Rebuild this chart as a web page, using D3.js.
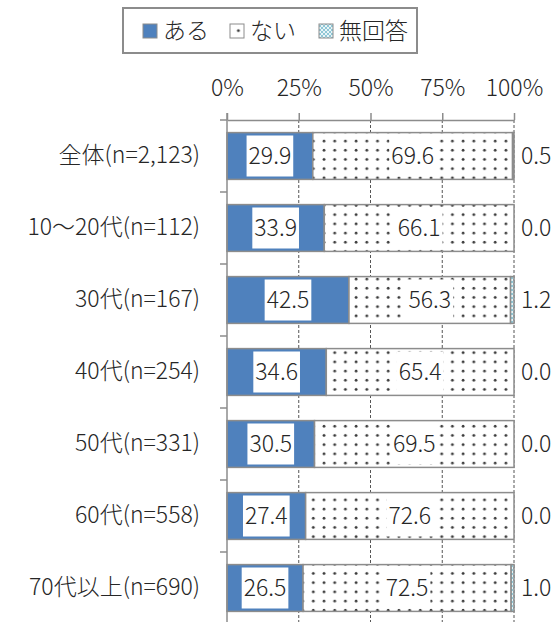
<!DOCTYPE html>
<meta charset="utf-8">
<script src="https://d3js.org/d3.v7.min.js"></script>
<style>
body { margin: 0; background: #fff; }
text { font-family: "Noto Sans CJK JP", "Noto Sans", sans-serif; fill: #262626; font-weight: 300; }
.axis path, .axis line { stroke: #8c8c8c; stroke-width: 1.5; }
.grid line { stroke: #555; stroke-dasharray: 3 2; stroke-width: 1; }
</style>
<div id="chart"></div>
<script>
// data
var categories = ["全体(n=2,123)", "10～20代(n=112)", "30代(n=167)", "40代(n=254)", "50代(n=331)", "60代(n=558)", "70代以上(n=690)"];
var aru    = [29.9, 33.9, 42.5, 34.6, 30.5, 27.4, 26.5];
var nai    = [69.6, 66.1, 56.3, 65.4, 69.5, 72.6, 72.5];
var mukai  = [0.5, 0.0, 1.2, 0.0, 0.0, 0.0, 1.0];
var seriesNames = ["ある", "ない", "無回答"];
var ticks = [0, 25, 50, 75, 100];

var width = 560, height = 622;
var fs = "23px";

var svg = d3.select("#chart").append("svg")
    .attr("width", width)
    .attr("height", height);

// patterns
var defs = svg.append("defs");
var dots = defs.append("pattern")
    .attr("id", "dots")
    .attr("patternUnits", "userSpaceOnUse")
    .attr("width", 10.7).attr("height", 9.2);
dots.append("rect").attr("width", 10.7).attr("height", 9.2).attr("fill", "#fff");
dots.append("circle").attr("cx", 3).attr("cy", 3).attr("r", 1.4).attr("fill", "#3a3a3a");

var hatch = defs.append("pattern")
    .attr("id", "hatch")
    .attr("patternUnits", "userSpaceOnUse")
    .attr("width", 4).attr("height", 4);
hatch.append("rect").attr("width", 4).attr("height", 4).attr("fill", "#8fc7d6");
hatch.append("path").attr("d", "M0,0L4,4M4,0L0,4").attr("stroke", "#fff").attr("stroke-width", 0.8);

var fills = ["#4f81bd", "url(#dots)", "url(#hatch)"];

// scales
var x = d3.scaleLinear().domain([0, 100]).range([227, 514]);
var y = d3.scaleBand().domain(categories).range([120, 624])
    .paddingInner(0.35).paddingOuter(0.175);

// gridlines
svg.append("g")
    .attr("class", "grid")
    .selectAll("line")
    .data(ticks.slice(1))
    .enter().append("line")
    .attr("x1", d => x(d)).attr("x2", d => x(d))
    .attr("y1", 120).attr("y2", 624);

// stacked data
var rows = categories.map(function(c, i) {
    return {name: c, vals: [aru[i], nai[i], mukai[i]]};
});

var rowG = svg.selectAll(".row")
    .data(rows)
    .enter().append("g")
    .attr("class", "row");

rowG.each(function(d) {
    var g = d3.select(this);
    var start = 0;
    d.mid = [];
    d.vals.forEach(function(v, k) {
        if (v > 0) {
            g.append("rect")
                .attr("x", x(start))
                .attr("y", y(d.name))
                .attr("width", x(start + v) - x(start))
                .attr("height", y.bandwidth())
                .attr("fill", fills[k])
                .attr("stroke", "#8c8c8c")
                .attr("stroke-width", 1.5);
        }
        d.mid[k] = start + v / 2;
        start += v;
    });
});

// value labels
rowG.each(function(d) {
    var g = d3.select(this);
    var cy = y(d.name) + y.bandwidth() / 2;
    [0, 1].forEach(function(k) {
        var t = g.append("text")
            .attr("x", x(d.mid[k]))
            .attr("y", cy)
            .attr("dy", "0.36em")
            .attr("text-anchor", "middle")
            .style("font-size", fs)
            .text(d.vals[k].toFixed(1));
        var bb = t.node().getBBox();
        g.insert("rect", function() { return t.node(); })
            .attr("x", bb.x - 2)
            .attr("y", cy - 20.5)
            .attr("width", bb.width + 4)
            .attr("height", 41)
            .attr("fill", "#fff");
    });
    g.append("text")
        .attr("x", x(100) + 7)
        .attr("y", cy)
        .attr("dy", "0.36em")
        .style("font-size", fs)
        .text(d.vals[2].toFixed(1));
});

// top axis
svg.append("g")
    .attr("class", "axis")
    .attr("transform", "translate(0,120)")
    .call(d3.axisTop(x).tickValues(ticks).tickSize(7).tickPadding(17)
        .tickSizeOuter(0).tickFormat(d => d + "%"))
    .call(g => g.selectAll("text").style("font-size", fs).attr("fill", "#262626"));

// left axis
var bounds = categories.map(c => y(c) - y.step() * y.paddingInner() / 2);
var left = svg.append("g").attr("class", "axis");
left.append("line")
    .attr("x1", x(0)).attr("x2", x(0))
    .attr("y1", 113).attr("y2", 624);
left.selectAll(".tk")
    .data(bounds)
    .enter().append("line")
    .attr("x1", x(0) - 7).attr("x2", x(0))
    .attr("y1", d => d).attr("y2", d => d);
svg.append("g")
    .attr("transform", "translate(" + x(0) + ",0)")
    .call(d3.axisLeft(y).tickSize(0).tickPadding(27))
    .call(g => g.select(".domain").remove())
    .call(g => g.selectAll("text").style("font-size", fs).attr("fill", "#262626"));

// legend
var legend = svg.append("g");
legend.append("rect")
    .attr("x", 123).attr("y", 8)
    .attr("width", 294).attr("height", 45)
    .attr("fill", "#fff")
    .attr("stroke", "#8c8c8c")
    .attr("stroke-width", 2);
var legX = [143, 230, 319];
seriesNames.forEach(function(s, k) {
    legend.append("rect")
        .attr("x", legX[k]).attr("y", 24)
        .attr("width", 14).attr("height", 14)
        .attr("fill", fills[k])
        .attr("stroke", "#8c8c8c");
    legend.append("text")
        .attr("x", legX[k] + 20).attr("y", 31)
        .attr("dy", "0.36em")
        .style("font-size", fs)
        .text(s);
});
</script>
